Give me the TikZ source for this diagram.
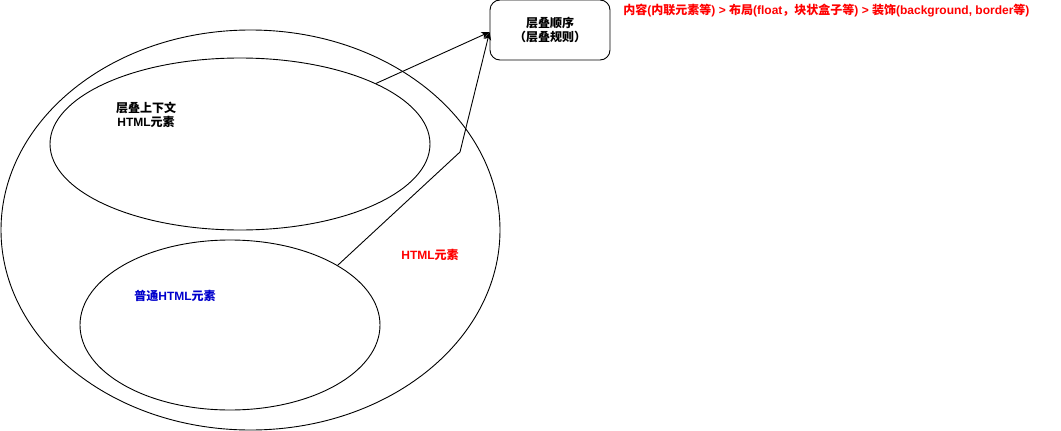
\documentclass[tikz,border=0pt]{standalone}
\usepackage{fontspec}
\setmainfont{Liberation Sans}
\newfontfamily\cjk{Noto Sans CJK SC}
\usetikzlibrary{shapes.geometric,arrows.meta,positioning}
\definecolor{notered}{RGB}{255,0,0}
\definecolor{plainblue}{RGB}{0,0,204}

\begin{document}
\begin{tikzpicture}[x=1pt,y=-1pt,line width=0.9pt,
  oval/.style={draw,ellipse,inner sep=0pt},
  txt/.style={font=\bfseries\fontsize{12}{14}\selectfont,align=center,inner sep=0pt},
  >={Stealth[length=8pt,width=7pt,inset=2pt]}]
  \useasboundingbox (0,0) rectangle (1061,431);
 % the three ellipses
  \node[oval,minimum width=499pt,minimum height=400pt] (html)  at (250.5,230) {};
  \node[oval,minimum width=380pt,minimum height=172pt] (ctx)   at (240,144) {};
  \node[oval,minimum width=300pt,minimum height=170pt] (plain) at (230,325) {};
  \node[draw,rounded corners=10pt,minimum width=120pt,minimum height=60pt,txt] (order) at (550,30)
     {{\cjk 层叠顺序}\\{\cjk （层叠规则）}};
 % labels
  \node[txt] (ctxtext)   at (146,115) {{\cjk 层叠上下文}\\HTML{\cjk 元素}};
  \node[txt,text=plainblue] (plaintext) at (175,296) {{\cjk 普通}HTML{\cjk 元素}};
  \node[txt,text=notered]   (htmltext)  at (430,255) {HTML{\cjk 元素}};
  \node[txt,text=notered,anchor=west] (rule) at (623,11)
     {{\cjk 内容}({\cjk 内联元素等}) > {\cjk 布局}(float{\cjk ，块状盒子等}) > {\cjk 装饰}(background, border{\cjk 等})};
  \coordinate (bend) at (460,152);
  \draw[->] (ctx.24) -- ([yshift=-2pt]order.west);
  \draw[->] (plain.29) -- (bend) -- ([yshift=-2pt]order.west);
\end{tikzpicture}
\end{document}
